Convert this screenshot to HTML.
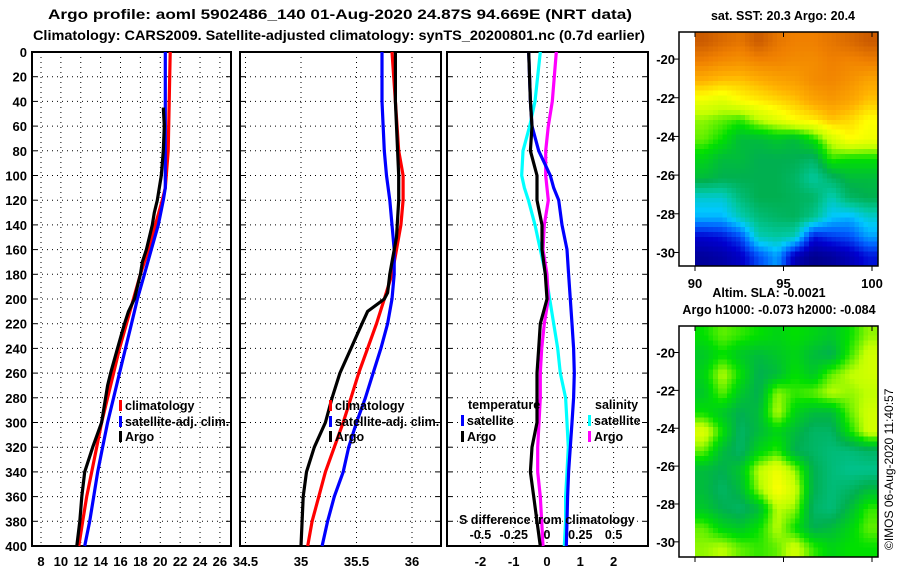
<!DOCTYPE html>
<html><head><meta charset="utf-8"><style>
html,body{margin:0;padding:0;background:#fff;}
svg{display:block;font-family:"Liberation Sans",sans-serif;font-weight:bold;}
</style></head><body>
<svg id="chart" width="900" height="580" viewBox="0 0 900 580" xmlns="http://www.w3.org/2000/svg">
<text x="340" y="19" font-size="14" text-anchor="middle" textLength="584" lengthAdjust="spacingAndGlyphs">Argo profile: aoml 5902486_140 01-Aug-2020 24.87S 94.669E (NRT data)</text>
<text x="339" y="40" font-size="14" text-anchor="middle" textLength="612" lengthAdjust="spacingAndGlyphs">Climatology: CARS2009. Satellite-adjusted climatology: synTS_20200801.nc (0.7d earlier)</text>
<g id="panels"></g>
<g id="maps"></g>
<text x="783" y="20" font-size="12.5" text-anchor="middle">sat. SST: 20.3 Argo: 20.4</text>
<text x="769" y="297" font-size="12.5" text-anchor="middle">Altim. SLA: -0.0021</text>
<text x="779" y="314" font-size="12.5" text-anchor="middle">Argo h1000: -0.073 h2000: -0.084</text>
<text transform="translate(893,550) rotate(-90)" font-size="12" font-weight="normal">©IMOS 06-Aug-2020 11:40:57</text>
</svg>
<script>
// ---- profile data ----
const tDepth = [0,40,80,110,120,140,160,180,200,220,240,260,280,300,320,340,360,380,400];
const tClim  = [21.0,20.9,20.8,20.5,20.2,19.5,18.8,18.0,17.3,16.6,15.9,15.3,14.7,14.1,13.6,13.1,12.6,12.2,11.8];
const tSat   = [20.5,20.5,20.5,20.5,20.3,19.8,19.1,18.4,17.7,17.1,16.5,15.9,15.3,14.7,14.2,13.7,13.3,12.9,12.4];
const argoTDepth = [45,60,80,100,120,130,140,160,170,180,200,210,220,240,260,270,280,300,320,340,360,380,400];
const argoT = [20.3,20.4,20.3,20.1,19.7,19.4,19.2,18.6,18.2,18.0,17.4,16.8,16.4,15.7,15.0,14.7,14.5,14.1,13.2,12.4,12.1,11.9,11.6];
const sDepth = [0,40,80,100,120,140,160,180,200,220,240,260,280,300,320,340,360,380,400];
const sClim = [35.82,35.85,35.88,35.92,35.92,35.9,35.86,35.82,35.75,35.68,35.6,35.52,35.45,35.38,35.3,35.22,35.16,35.1,35.06];
const sSat  = [35.73,35.73,35.75,35.77,35.8,35.82,35.84,35.84,35.82,35.78,35.72,35.65,35.58,35.5,35.43,35.38,35.3,35.24,35.19];
const argoSDepth = [0,40,80,100,120,150,170,180,195,200,210,220,240,260,280,300,320,340,360,380,400];
const argoS = [35.85,35.85,35.87,35.88,35.88,35.86,35.82,35.8,35.78,35.75,35.6,35.55,35.45,35.35,35.28,35.22,35.12,35.05,35.02,35.01,35.0];
const dDepth = [0,40,60,80,100,110,120,140,160,180,200,220,240,260,280,300,320,340,360,380,400];
const dTSat  = [-0.55,-0.5,-0.45,-0.25,0.1,0.2,0.35,0.45,0.6,0.65,0.7,0.75,0.8,0.82,0.8,0.75,0.7,0.65,0.62,0.6,0.58];
const dTArgo = [-0.55,-0.5,-0.45,-0.5,-0.3,-0.3,-0.3,-0.15,-0.15,-0.05,0.0,-0.2,-0.25,-0.3,-0.3,-0.3,-0.45,-0.5,-0.4,-0.3,-0.2];
const dSSat  = [-0.05,-0.09,-0.13,-0.18,-0.19,-0.17,-0.14,-0.09,-0.05,-0.01,0.02,0.05,0.08,0.1,0.14,0.15,0.16,0.15,0.14,0.14,0.13];
const dSArgo = [0.07,0.04,0.01,-0.01,-0.01,0.0,0.01,-0.02,-0.03,0.0,0.01,-0.02,-0.04,-0.05,-0.05,-0.06,-0.07,-0.07,-0.05,-0.04,-0.03];
const depthTicks = [0,20,40,60,80,100,120,140,160,180,200,220,240,260,280,300,320,340,360,380,400];
const tTicks = [8,10,12,14,16,18,20,22,24,26];
const sTicks = [34.5,35,35.5,36];
const dTicks = [-2,-1,0,1,2];
const dSTickLabels = ["-0.5","-0.25","0","0.25","0.5"];
// ---- map data (0..1 colour index) ----
const sstGrid = [
[.95,.92,.9,.95,.9,.88,.88,.9,.92,.95],
[.88,.86,.85,.87,.87,.86,.86,.88,.87,.88],
[.8,.78,.78,.8,.82,.83,.86,.87,.85,.82],
[.7,.68,.72,.74,.76,.78,.82,.84,.82,.78],
[.62,.6,.58,.64,.68,.72,.74,.78,.76,.72],
[.6,.56,.5,.5,.52,.5,.56,.66,.72,.7],
[.54,.5,.5,.48,.48,.48,.46,.58,.56,.56],
[.5,.48,.48,.48,.48,.46,.4,.46,.5,.5],
[.36,.36,.44,.48,.48,.47,.46,.38,.46,.48],
[.3,.3,.38,.44,.46,.47,.42,.32,.3,.36],
[.12,.14,.2,.38,.4,.38,.14,.18,.2,.28],
[.04,.06,.1,.2,.28,.08,.02,.04,.08,.14]];
const slaGrid = [
[.56,.6,.58,.56,.54,.56,.54,.52,.56,.62],
[.52,.56,.52,.5,.52,.54,.5,.48,.58,.66],
[.54,.64,.56,.48,.5,.56,.52,.6,.64,.66],
[.52,.6,.52,.48,.62,.58,.6,.64,.62,.64],
[.56,.52,.48,.5,.64,.54,.5,.5,.6,.66],
[.68,.56,.46,.5,.54,.5,.46,.46,.56,.66],
[.6,.5,.46,.54,.58,.48,.46,.44,.44,.46],
[.5,.48,.52,.64,.7,.62,.48,.44,.42,.42],
[.5,.46,.5,.62,.72,.66,.48,.44,.46,.5],
[.52,.48,.46,.5,.64,.62,.46,.44,.5,.58],
[.6,.54,.52,.56,.64,.56,.48,.5,.54,.6],
[.62,.64,.6,.58,.6,.66,.58,.54,.56,.56]];
const lonTicks = [90,95,100];
const latTicks = [-20,-22,-24,-26,-28,-30];

const NS="http://www.w3.org/2000/svg";
function mk(tag,attrs,parent){const e=document.createElementNS(NS,tag);for(const k in attrs)e.setAttribute(k,attrs[k]);parent.appendChild(e);return e;}
const Y0=52,Y1=546;
const yD=d=>Y0+(d/400)*(Y1-Y0);
const P=document.getElementById('panels');

function panel(name,x0,x1,xScale,ticks,tickLabels,showDepthLabels){
  const g=mk('g',{},P);
  
  
  depthTicks.forEach(d=>{
    if(d>0&&d<400){const l=mk('line',{x1:x0,x2:x1,y1:yD(d),y2:yD(d),stroke:'#000','stroke-width':1,'stroke-dasharray':'1,4'},g);
    }
    mk('line',{x1:x0,x2:x0+5,y1:yD(d),y2:yD(d),stroke:'#000'},g);
    mk('line',{x1:x1-5,x2:x1,y1:yD(d),y2:yD(d),stroke:'#000'},g);
    if(showDepthLabels){const t=mk('text',{x:x0-5,y:yD(d)+5,'font-size':13,'text-anchor':'end'},g);t.textContent=d;
      }
  });
  ticks.forEach((v,i)=>{
    const x=xScale(v);
    const l=mk('line',{x1:x,x2:x,y1:Y0,y2:Y1,stroke:'#000','stroke-dasharray':'1,4'},g);
    
    const t=mk('text',{x:x,y:566,'font-size':13,'text-anchor':'middle'},g);t.textContent=tickLabels[i];
    
  });
  const r=mk('rect',{x:x0,y:Y0,width:x1-x0,height:Y1-Y0,fill:'none',stroke:'#000','stroke-width':2},g);
  
  return g;
}
function series(g,name,depths,vals,xScale,color){
  const pts=depths.map((d,i)=>xScale(vals[i]).toFixed(1)+','+yD(d).toFixed(1)).join(' ');
  const p=mk('polyline',{points:pts,fill:'none',stroke:color,'stroke-width':3.2,'stroke-linejoin':'round'},g);
  
}
function legend(g,name,x,y,color,label){
  const gg=mk('g',{},g);
  
  mk('rect',{x:x,y:y-10,width:3,height:11,fill:color},gg);
  const t=mk('text',{x:x+6,y:y,'font-size':12.5},gg);t.textContent=label;
}

const xT=v=>41+(v-8)*9.94;
const g1=panel('temperature-panel',32,231,xT,tTicks,tTicks.map(String),true);
series(g1,'temp-climatology-line',tDepth,tClim,xT,'#ff0000');
series(g1,'temp-satellite-line',tDepth,tSat,xT,'#0000ff');
series(g1,'temp-argo-line',argoTDepth,argoT,xT,'#000');
legend(g1,'legend-climatology',119,410,'#ff0000','climatology');
legend(g1,'legend-satellite-adj',119,426,'#0000ff','satellite-adj. clim.');
legend(g1,'legend-argo',119,441,'#000','Argo');

const xS=v=>301+(v-35)*111;
const g2=panel('salinity-panel',240,441,xS,sTicks,sTicks.map(String),false);
series(g2,'sal-climatology-line',sDepth,sClim,xS,'#ff0000');
series(g2,'sal-satellite-line',sDepth,sSat,xS,'#0000ff');
series(g2,'sal-argo-line',argoSDepth,argoS,xS,'#000');
legend(g2,'legend-climatology',329,410,'#ff0000','climatology');
legend(g2,'legend-satellite-adj',329,426,'#0000ff','satellite-adj. clim.');
legend(g2,'legend-argo',329,441,'#000','Argo');

const xDT=v=>547+v*33.3;
const xDS=v=>547+v*133.2;
const g3=panel('difference-panel',447,648,xDT,dTicks,dTicks.map(String),false);
series(g3,'diff-sal-satellite-line',dDepth,dSSat,xDS,'#00ffff');
series(g3,'diff-sal-argo-line',dDepth,dSArgo,xDS,'#ff00ff');
series(g3,'diff-temp-satellite-line',dDepth,dTSat,xDT,'#0000ff');
series(g3,'diff-temp-argo-line',dDepth,dTArgo,xDT,'#000');
{const t=mk('text',{x:468,y:409,'font-size':12.5},g3);t.textContent='temperature';
 }
{const t=mk('text',{x:595,y:409,'font-size':12.5},g3);t.textContent='salinity';
 }
legend(g3,'legend-temp-satellite',461,425,'#0000ff','satellite');
legend(g3,'legend-temp-argo',461,441,'#000','Argo');
legend(g3,'legend-sal-satellite',588,425,'#00ffff','satellite');
legend(g3,'legend-sal-argo',588,441,'#ff00ff','Argo');
{const t=mk('text',{x:459,y:524,'font-size':12.5},g3);t.textContent='S difference from climatology';
 }
[-0.5,-0.25,0,0.25,0.5].forEach((v,i)=>{
  const t=mk('text',{x:xDS(v),y:539,'font-size':12.5,'text-anchor':'middle'},g3);t.textContent=dSTickLabels[i];
  
});

// Maps
const stops=[[0,[0,0,128]],[.12,[0,0,208]],[.22,[0,96,255]],[.32,[0,200,255]],[.40,[0,200,160]],[.48,[0,176,80]],[.56,[0,224,0]],[.64,[192,255,0]],[.72,[255,255,0]],[.80,[255,176,0]],[.88,[240,128,0]],[1,[176,64,0]]];
function cmap(v){for(let i=1;i<stops.length;i++){if(v<=stops[i][0]){const a=stops[i-1],b=stops[i],f=(v-a[0])/(b[0]-a[0]);
  return 'rgb('+a[1].map((c,k)=>Math.round(c+(b[1][k]-c)*f)).join(',')+')';}}return 'rgb(176,64,0)';}
function sample(grid,fr,fc){
  const R=grid.length,C=grid[0].length;
  const r=Math.min(Math.max(fr,0),R-1),c=Math.min(Math.max(fc,0),C-1);
  const r0=Math.floor(r),c0=Math.floor(c),r1=Math.min(r0+1,R-1),c1=Math.min(c0+1,C-1);
  const a=r-r0,b=c-c0;
  return grid[r0][c0]*(1-a)*(1-b)+grid[r0][c1]*(1-a)*b+grid[r1][c0]*a*(1-b)+grid[r1][c1]*a*b;
}
const M=document.getElementById('maps');
function drawMap(name,grid,top,bottom,latTop,latBot,showLon,up){
  const g=mk('g',{},M);
  
  const lx0=695,lx1=877;
  const xL=lon=>695+(lon-90)*17.7;
  const yL=lat=>top+(latTop-lat)/(latTop-latBot)*(bottom-top);
  const rows=grid.length*up,cols=grid[0].length*up;
  const cw=(lx1-lx0)/cols,ch=(bottom-top)/rows;
  for(let r=0;r<rows;r++)for(let c=0;c<cols;c++){
    const v=sample(grid,(r+0.5)/up-0.5,(c+0.5)/up-0.5);
    const cell=mk('rect',{x:(lx0+c*cw).toFixed(2),y:(top+r*ch).toFixed(2),width:(cw+0.5).toFixed(2),height:(ch+0.5).toFixed(2),fill:cmap(v),'shape-rendering':'crispEdges'},g);
    
  }
  mk('rect',{x:679,y:top,width:199,height:bottom-top,fill:'none',stroke:'#000','stroke-width':1.5},g);
  latTicks.forEach(lat=>{
    const y=yL(lat);
    mk('line',{x1:673,x2:679,y1:y,y2:y,stroke:'#000'},g);
    const t=mk('text',{x:675,y:y+5,'font-size':13,'text-anchor':'end'},g);t.textContent=lat;
    
  });
  lonTicks.forEach(lon=>{
    const x=xL(lon);
    mk('line',{x1:x,x2:x,y1:top,y2:top+5,stroke:'#000'},g);
    mk('line',{x1:x,x2:x,y1:bottom,y2:bottom+5,stroke:'#000'},g);
    if(showLon){const t=mk('text',{x:x,y:bottom+22,'font-size':13,'text-anchor':'middle'},g);t.textContent=lon;
      }
  });
}
drawMap('sst-map',sstGrid,32,266,-18.6,-30.7,true,4);
drawMap('sla-map',slaGrid,326,557,-18.6,-30.8,false,4);
</script>
</body></html>
